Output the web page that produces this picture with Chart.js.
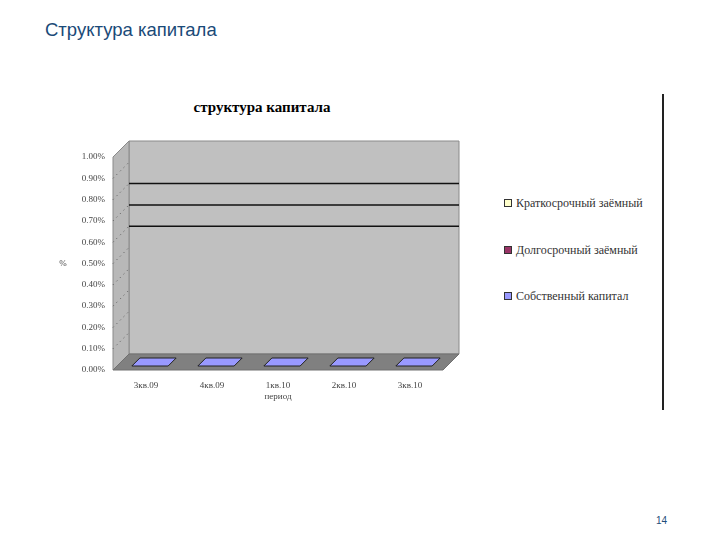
<!DOCTYPE html>
<html>
<head>
<meta charset="utf-8">
<script src="https://cdn.jsdelivr.net/npm/chart.js@4.4.1/dist/chart.umd.min.js"></script>
<style>
body { margin: 0; width: 720px; height: 540px; background: #fff; position: relative; overflow: hidden; font-family: "Liberation Sans", Arial, sans-serif; }
#page-title { position: absolute; left: 45px; top: 19px; font-size: 18.5px; color: #1a4a78; }
#chart-title { position: absolute; left: 40px; width: 444px; top: 99px; text-align: center; font: bold 15px "Liberation Serif", serif; color: #000; }
#chart-box { position: absolute; left: 40px; top: 95px; width: 444px; height: 315px; }
#legend { position: absolute; left: 504px; top: 196px; font: 12px "Liberation Serif", serif; color: #333; }
#legend div { height: 14px; line-height: 14px; margin-bottom: 32.5px; white-space: nowrap; }
#legend span { display: inline-block; width: 6px; height: 6px; border: 1px solid #333; margin-right: 4px; vertical-align: 0px; }
#frame { position: absolute; left: 662px; top: 94px; width: 1.5px; height: 316px; background: #222; }
#page-num { position: absolute; left: 656px; top: 515px; font-size: 10px; color: #1f4e79; }
</style>
</head>
<body>
<div id="page-title">Структура капитала</div>
<div id="chart-title">структура капитала</div>
<div id="chart-box"><canvas id="capital-chart"></canvas></div>
<div id="legend"></div>
<div id="frame"></div>
<div id="page-num">14</div>

<script>
// Data (all shares are zero)
const periods = ['3кв.09', '4кв.09', '1кв.10', '2кв.10', '3кв.10'];
const shortTermDebt = [0, 0, 0, 0, 0];
const longTermDebt = [0, 0, 0, 0, 0];
const ownCapital = [0, 0, 0, 0, 0];
const seriesNames = ['Краткосрочный заёмный', 'Долгосрочный заёмный', 'Собственный капитал'];
const seriesColors = ['#ffffcc', '#993366', '#9999ff'];
const yTicks = [0, 0.1, 0.2, 0.3, 0.4, 0.5, 0.6, 0.7, 0.8, 0.9, 1.0];
const darkGrid = [0.6, 0.7, 0.8];

const depth = 16;

function poly(ctx, pts, fill, stroke) {
    ctx.beginPath();
    ctx.moveTo(pts[0][0], pts[0][1]);
    pts.slice(1).forEach(p => ctx.lineTo(p[0], p[1]));
    ctx.closePath();
    ctx.fillStyle = fill;
    ctx.fill();
    if (stroke) {
        ctx.strokeStyle = stroke;
        ctx.lineWidth = 1;
        ctx.stroke();
    }
}

// Fake 3D walls, floor and flat bars (Excel look)
const wallsPlugin = {
    id: 'walls',
    beforeDatasetsDraw(chart) {
        const { ctx, chartArea: a, scales: { y } } = chart;
        ctx.save();
        // back wall
        poly(ctx, [[a.left + depth, a.top - depth], [a.right + depth, a.top - depth],
                   [a.right + depth, a.bottom - depth], [a.left + depth, a.bottom - depth]], '#c0c0c0', '#8a8a8a');
        // left wall
        poly(ctx, [[a.left, a.top], [a.left + depth, a.top - depth],
                   [a.left + depth, a.bottom - depth], [a.left, a.bottom]], '#b8b8b8', '#8a8a8a');
        // floor
        poly(ctx, [[a.left, a.bottom], [a.left + depth, a.bottom - depth],
                   [a.right + depth, a.bottom - depth], [a.right, a.bottom]], '#808080', '#707070');

        // dark lines on back wall
        ctx.strokeStyle = '#111';
        ctx.lineWidth = 1.5;
        darkGrid.forEach(v => {
            const py = y.getPixelForValue(v) - depth;
            ctx.beginPath();
            ctx.moveTo(a.left + depth, py);
            ctx.lineTo(a.right + depth, py);
            ctx.stroke();
        });

        // dotted side grid
        ctx.strokeStyle = '#555';
        ctx.lineWidth = 1;
        ctx.setLineDash([1, 4]);
        yTicks.slice(1, -1).forEach(v => {
            const py = y.getPixelForValue(v);
            ctx.beginPath();
            ctx.moveTo(a.left, py);
            ctx.lineTo(a.left + depth, py - depth);
            ctx.stroke();
        });
        ctx.setLineDash([]);

        // flat bars of own capital lying on the floor
        const meta = chart.getDatasetMeta(2);
        meta.data.forEach((bar, i) => {
            const base = y.getPixelForValue(ownCapital[i]);
            const x0 = bar.x - bar.width / 2;
            const w = bar.width;
            const d1 = 4, d2 = 12;
            poly(ctx, [[x0 + d1, base - d1], [x0 + w + d1, base - d1],
                       [x0 + w + d2, base - d2], [x0 + d2, base - d2]], seriesColors[2], '#222');
        });
        ctx.restore();
    },
    afterDraw(chart) {
        const { ctx, scales: { y } } = chart;
        ctx.save();
        ctx.font = '9px "Liberation Serif", serif';
        ctx.fillStyle = '#444';
        ctx.textAlign = 'center';
        ctx.textBaseline = 'middle';
        ctx.fillText('%', 23, y.getPixelForValue(0.5));
        ctx.restore();
    }
};

const ctx = document.getElementById('capital-chart').getContext('2d');
const capitalChart = new Chart(ctx, {
    type: 'bar',
    data: {
        labels: periods,
        datasets: [
            { label: seriesNames[0], data: shortTermDebt, backgroundColor: seriesColors[0] },
            { label: seriesNames[1], data: longTermDebt, backgroundColor: seriesColors[1] },
            { label: seriesNames[2], data: ownCapital, backgroundColor: seriesColors[2] }
        ]
    },
    options: {
        responsive: true,
        maintainAspectRatio: false,
        animation: false,
        layout: { padding: { top: 62, right: 41, left: 0, bottom: 7 } },
        plugins: {
            legend: { display: false },
            title: { display: false },
            tooltip: { enabled: false }
        },
        datasets: { bar: { barPercentage: 0.55, categoryPercentage: 1 } },
        scales: {
            x: {
                stacked: true,
                grid: { display: false },
                border: { display: false },
                ticks: { color: '#444', font: { family: '"Liberation Serif", serif', size: 9 }, padding: 2 },
                title: { display: true, text: 'период', color: '#444', font: { family: '"Liberation Serif", serif', size: 9 }, padding: 1 },
                afterFit(scale) { scale.height = 33; }
            },
            y: {
                stacked: true,
                min: 0,
                max: 1,
                grid: { display: false },
                border: { display: false },
                afterBuildTicks(scale) { scale.ticks = yTicks.map(v => ({ value: v })); },
                ticks: {
                    color: '#444',
                    font: { family: '"Liberation Serif", serif', size: 9 },
                    padding: 0,
                    callback: v => v.toFixed(2) + '%'
                },
                afterFit(scale) { scale.width = 73; }
            }
        }
    },
    plugins: [wallsPlugin]
});

// HTML legend
document.getElementById('legend').innerHTML = seriesNames
    .map((name, i) => `<div><span style="background:${seriesColors[i]}"></span>${name}</div>`)
    .join('');
</script>
</body>
</html>
